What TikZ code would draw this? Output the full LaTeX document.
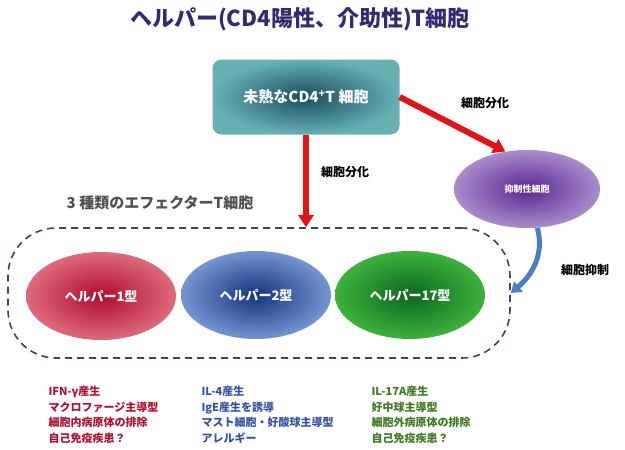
\documentclass[tikz,border=0pt]{standalone}
\usepackage{fontspec}
\setmainfont{Noto Sans CJK JP}
\usetikzlibrary{shapes.geometric,arrows.meta}
\definecolor{navy1}{HTML}{2E2E6E}
\definecolor{tealin}{HTML}{1A505A}
\definecolor{tealout}{HTML}{66B0B6}
\definecolor{purpin}{HTML}{5A2890}
\definecolor{purpout}{HTML}{A88CCB}
\definecolor{redin}{HTML}{B00C2C}
\definecolor{redout}{HTML}{DE6A7C}
\definecolor{bluein}{HTML}{15357E}
\definecolor{blueout}{HTML}{7494D2}
\definecolor{greenin}{HTML}{0E6620}
\definecolor{greenout}{HTML}{3CB23C}
\definecolor{arrowred}{HTML}{E01414}
\definecolor{arrowblue}{HTML}{4A7EC0}
\definecolor{dash1}{HTML}{3A4A4A}
\definecolor{gray1}{HTML}{505050}
\definecolor{redtext}{HTML}{B01030}
\definecolor{bluetext}{HTML}{3552A2}
\definecolor{greentext}{HTML}{3C7A1C}
\tikzset{
  cell/.style={ellipse,minimum width=150pt,minimum height=88pt,text=white,font=\fontsize{13}{15}\selectfont\bfseries},
  fatarrow/.style={line width=6pt,draw=arrowred,-{Triangle[length=12pt,width=15pt]}},
  label1/.style={font=\fontsize{12}{14}\selectfont\bfseries},
  notes/.style={anchor=north west,align=left,font=\fontsize{11}{15.5}\selectfont\bfseries}
}
\begin{document}
\begin{tikzpicture}[x=1pt,y=-1pt]
\useasboundingbox (0,0) rectangle (625,450);
\node[text=navy1,font=\fontsize{22}{24}\selectfont\bfseries] (title) at (300,19) {ヘルパー(CD4陽性、介助性)T細胞};
\node[rounded corners=9pt,minimum width=187pt,minimum height=75pt,inner color=tealin,outer color=tealout,text=white,font=\fontsize{15}{18}\selectfont\bfseries] (naive) at (306,97) {未熟なCD4\textsuperscript{+}T 細胞};
\node[ellipse,minimum width=146pt,minimum height=78pt,inner color=purpin,outer color=purpout,text=white,font=\fontsize{9}{11}\selectfont\bfseries] (supp) at (527,189) {抑制性細胞};
\node[text=gray1,font=\fontsize{15}{18}\selectfont\bfseries] (three) at (160,203) {3 種類のエフェクターT細胞};
\node[draw=dash1,dashed,line width=1.6pt,dash pattern=on 7pt off 5pt,rounded corners=48pt,minimum width=502pt,minimum height=130pt] (effector) at (259,293) {};
\node[cell,inner color=redin,outer color=redout] (th1) at (101,296) {ヘルパー1型};
\node[cell,inner color=bluein,outer color=blueout] (th2) at (256,295) {ヘルパー2型};
\node[cell,inner color=greenin,outer color=greenout] (th17) at (410,295) {ヘルパー17型};
\draw[fatarrow] (naive.south) -- (naive.south |- effector.north);
\draw[fatarrow] (naive.east) -- (supp.120);
\node[label1] (diff1) at (345,172) {細胞分化};
\node[label1] (diff2) at (485,103) {細胞分化};
\draw[line width=5pt,draw=arrowblue,-{Triangle[length=10pt,width=13pt]}] (supp.-75) to[out=-75,in=40] (effector.east);
\node[label1] (inhib) at (585,270) {細胞抑制};
\node[notes,text=redtext] (note1) at (45,383) {IFN-γ産生\\マクロファージ主導型\\細胞内病原体の排除\\自己免疫疾患？};
\node[notes,text=bluetext] (note2) at (198,383) {IL-4産生\\IgE産生を誘導\\マスト細胞・好酸球主導型\\アレルギー};
\node[notes,text=greentext] (note3) at (368,383) {IL-17A産生\\好中球主導型\\細胞外病原体の排除\\自己免疫疾患？};
\end{tikzpicture}
\end{document}
